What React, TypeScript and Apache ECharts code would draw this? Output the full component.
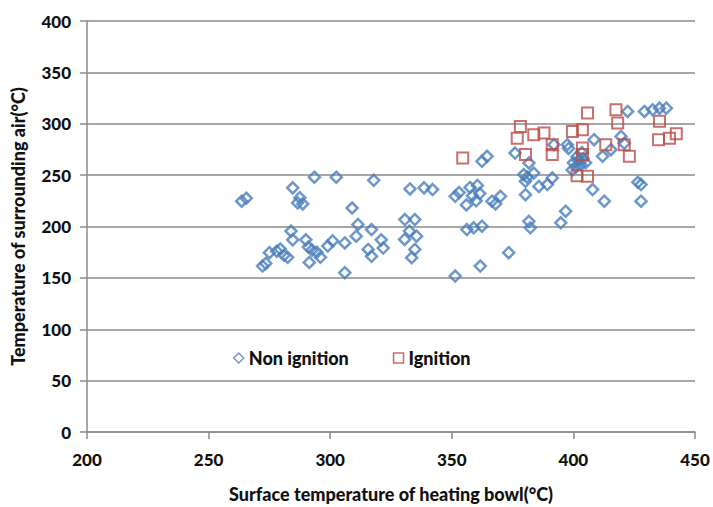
import React, { useEffect, useRef } from "react";
import * as echarts from "echarts";

// Surface temperature of heating bowl (°C), surrounding air temperature (°C)
const nonIgnition: [number, number][] = [
  [263.6, 224.6], [265.5, 227.5],
  [272.2, 161.5], [273.5, 164], [275, 174.5], [278, 176], [279.5, 178], [281, 172],
  [282.5, 170], [283.9, 195.5], [284.6, 187], [284.6, 237.6], [286.6, 223], [288.7, 222],
  [287.5, 228],
  [290, 187], [291, 180], [291.4, 165], [292.5, 177], [293.5, 248], [294.5, 175],
  [296, 170], [299, 181], [301, 186], [302.5, 248], [306, 184], [306, 155], [309, 218],
  [310.7, 190.6], [311.4, 202], [315.6, 177.7], [317, 171], [317, 197], [317.9, 245],
  [321, 187], [321.8, 179],
  [330.6, 187.4], [330.7, 206.8], [332.6, 195.5], [332.8, 236.6], [333.5, 169.6],
  [334.8, 177.7], [334.8, 206.8], [335.5, 190.6], [338.6, 237.6], [342.1, 236],
  [351.4, 151.8], [351.4, 229.4], [353, 233], [356, 221], [356.2, 197], [357.5, 238],
  [358.5, 230], [359, 198.7], [360, 225], [360.5, 240], [361.5, 232], [361.7, 161.5],
  [362.4, 200.3], [362.4, 263.4], [364.5, 268.3],
  [366.5, 224.6], [368, 222], [370, 229.4], [373.4, 174.5], [376, 271.5], [379.6, 250.5],
  [380.3, 244], [380.3, 231], [381, 248], [381.7, 261.8], [381.7, 205], [382.3, 198.7],
  [383.7, 252], [385.8, 239], [389.3, 240.8], [391.3, 247.3], [392, 279.6], [394.8, 203.6],
  [396.8, 214.9], [397.5, 279.6], [398, 276],
  [399.5, 255], [400, 262], [401, 258], [401.5, 268], [402, 264], [403, 260], [404, 266],
  [405, 262], [403.5, 272],
  [407.9, 236], [408.5, 284.5], [412, 268.3], [412.7, 224.6], [415.4, 274.8],
  [419.6, 287.7], [420.9, 281], [422.3, 312], [426.5, 243], [427.8, 240.8],
  [427.8, 224.6], [429.2, 312], [432.6, 313.6], [435.4, 315.2], [438.2, 315.2],
];

const ignition: [number, number][] = [
  [354.5, 266.7], [376.9, 286], [378.2, 297.4], [380.3, 270], [383.7, 289.3],
  [387.9, 291], [391.3, 279.6], [391.3, 270], [399.6, 292.5], [401.5, 249.5],
  [403.7, 294.2], [403.7, 276.4], [403.7, 270], [405.8, 310.4], [405.8, 249],
  [413.3, 279.6], [417.5, 313.6], [418.2, 300.7], [420.9, 279.6], [423, 268.3],
  [435.4, 302.5], [435, 284.5], [439.5, 286], [442.3, 290.3],
];

const seriesNames = ["Non ignition", "Ignition"];
const xAxisTitle = "Surface temperature of heating bowl(°C)";
const yAxisTitle = "Temperature of surrounding air(°C)";

const FONT = "Lato, 'Open Sans', sans-serif";
const GRID_GRAY = "#8a8a8a";
const BLUE = "#4a7ebb";
const RED = "#be4b48";

export default function App() {
  const ref = useRef<HTMLDivElement>(null);

  useEffect(() => {
    if (!ref.current) return;
    const chart = echarts.init(ref.current, null, { renderer: "svg" });
    const textBase = {
      color: "#111",
      fontFamily: FONT,
      fontWeight: 900 as const,
    };
    chart.setOption({
      animation: false,
      backgroundColor: "#fff",
      grid: { left: 87, right: 18, top: 21, bottom: 75, outerBoundsMode: "none", containLabel: false },
      legend: {
        left: 228,
        top: 344,
        itemGap: 44,
        itemWidth: 10,
        itemHeight: 10,
        textStyle: { ...textBase, fontSize: 18 },
        data: [
          { name: seriesNames[0], icon: "diamond", itemStyle: { color: "#fff", borderColor: BLUE, borderWidth: 1.5 } },
          { name: seriesNames[1], icon: "rect", itemStyle: { color: "#fff", borderColor: RED, borderWidth: 1.5 } },
        ],
      },
      xAxis: {
        type: "value",
        min: 200,
        max: 450,
        interval: 50,
        name: xAxisTitle,
        nameLocation: "middle",
        nameGap: 53,
        nameTextStyle: { ...textBase, fontSize: 18 },
        axisLine: { show: true, onZero: false, lineStyle: { color: GRID_GRAY, width: 1.5 } },
        axisTick: { show: true, length: 7, lineStyle: { color: GRID_GRAY, width: 1.5 } },
        axisLabel: { ...textBase, fontSize: 17, margin: 19 },
        splitLine: { show: false },
      },
      yAxis: {
        type: "value",
        min: 0,
        max: 400,
        interval: 50,
        name: yAxisTitle,
        nameLocation: "middle",
        nameGap: 60,
        nameTextStyle: { ...textBase, fontSize: 18 },
        axisLine: { show: true, lineStyle: { color: GRID_GRAY, width: 1.5 } },
        axisTick: { show: true, length: 7, lineStyle: { color: GRID_GRAY, width: 1.5 } },
        axisLabel: { ...textBase, fontSize: 17, margin: 16 },
        splitLine: { show: true, lineStyle: { color: GRID_GRAY, width: 1.5 } },
      },
      series: [
        {
          name: seriesNames[0],
          type: "scatter",
          symbol: "diamond",
          symbolSize: 11,
          data: nonIgnition,
          itemStyle: { color: "rgba(255,255,255,0)", borderColor: BLUE, borderWidth: 2.5 },
        },
        {
          name: seriesNames[1],
          type: "scatter",
          symbol: "rect",
          symbolSize: 11,
          data: ignition,
          itemStyle: { color: "rgba(255,255,255,0)", borderColor: RED, borderWidth: 2 },
        },
      ],
    });
    return () => chart.dispose();
  }, []);

  return <div ref={ref} style={{ width: 713, height: 507, position: "absolute", left: 0, top: 0 }} />;
}
